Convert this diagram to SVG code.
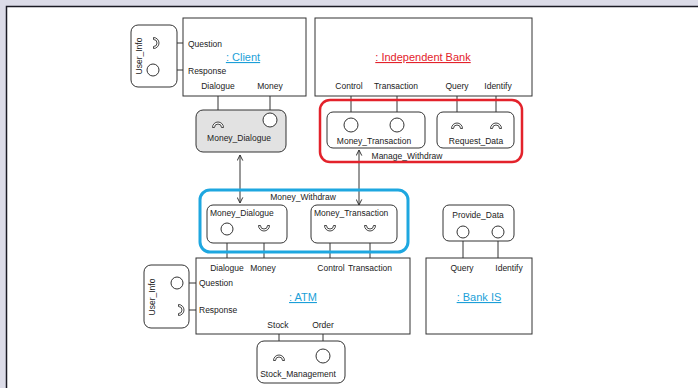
<svg xmlns="http://www.w3.org/2000/svg" width="698" height="388" viewBox="0 0 698 388">
  <style>
    .box { fill: #ffffff; stroke: #333333; stroke-width: 1; }
    .part { fill: #ffffff; stroke: #333333; stroke-width: 1; }
    .gray { fill: #e2e2e2; stroke: #333333; stroke-width: 1; }
    .wire { fill: none; stroke: #333333; stroke-width: 1; }
    .ball { fill: #ffffff; stroke: #333333; stroke-width: 1; }
    .sock { fill: #ffffff; stroke: #333333; stroke-width: 0.9; }
    .t { font-family: "Liberation Sans", Arial, sans-serif; font-size: 8.5px; fill: #222222; }
    .mid { text-anchor: middle; }
    .title { font-family: "Liberation Sans", Arial, sans-serif; font-size: 11px; text-anchor: middle; text-decoration: underline; }
    .blue { fill: #1c9fd8; }
    .red { fill: #e3222b; }
  </style>
  <defs>
    <!-- required-interface socket, convex side pointing up (towards its wire) -->
    <path id="sockUp" class="sock" d="M-5.5,2.5 A5.5,5.5 0 0 1 5.5,2.5 L3.5,2.5 A3.5,3.5 0 0 0 -3.5,2.5 Z"/>
    <marker id="arr" viewBox="0 0 10 10" refX="9" refY="5" markerWidth="7" markerHeight="7" orient="auto-start-reverse" markerUnits="userSpaceOnUse">
      <path d="M1,1 L9,5 L1,9" fill="none" stroke="#333333" stroke-width="1.4"/>
    </marker>
  </defs>

  <!-- page -->
  <rect x="0" y="0" width="698" height="388" fill="#dcdce8"/>
  <rect x="6" y="6" width="692" height="382" fill="#ffffff"/>
  <path d="M6.5,388 V6.5 H698" fill="none" stroke="#1b1b24" stroke-width="1.5"/>

  <!-- connectors -->
  <g id="connectors">
    <!-- client ports -->
    <path class="wire" d="M160,43 H183 M159,70 H183"/>
    <path class="wire" d="M218,96 V122 M270,96 V113"/>
    <!-- independent bank ports -->
    <path class="wire" d="M351,96 V118 M397,96 V118 M457,96 V123 M496,96 V123"/>
    <!-- delegation arrows -->
    <line class="wire" x1="240" y1="155" x2="240" y2="203" marker-start="url(#arr)" marker-end="url(#arr)"/>
    <line class="wire" x1="359" y1="150" x2="359" y2="205" marker-start="url(#arr)" marker-end="url(#arr)"/>
    <!-- money withdraw to ATM -->
    <path class="wire" d="M227,235 V258 M264,231 V258 M330,231 V258 M370,231 V258"/>
    <!-- provide data to bank IS -->
    <path class="wire" d="M463,238 V258 M498,238 V258"/>
    <!-- ATM user info -->
    <path class="wire" d="M183,283 H196 M185,310 H196"/>
    <!-- ATM stock management -->
    <path class="wire" d="M279,334 V354 M323,334 V349"/>
  </g>

  <!-- : Client -->
  <g id="client">
    <rect class="box" x="183" y="18" width="123" height="78"/>
    <text class="title blue" x="243" y="61">: Client</text>
    <text class="t" x="188" y="47">Question</text>
    <text class="t" x="188" y="74">Response</text>
    <text class="t mid" x="218" y="89">Dialogue</text>
    <text class="t mid" x="270" y="89">Money</text>
  </g>

  <!-- User_Info (client side) -->
  <g id="client-user-info">
    <rect class="part" x="131" y="25" width="46" height="62" rx="7"/>
    <text class="t mid" transform="translate(142,56) rotate(-90)">User_Info</text>
    <use href="#sockUp" transform="translate(156,43) rotate(90)"/>
    <circle class="ball" cx="153" cy="70" r="6"/>
  </g>

  <!-- : Independent Bank -->
  <g id="independent-bank">
    <rect class="box" x="315" y="18" width="217" height="78"/>
    <text class="title red" x="423" y="61">: Independent Bank</text>
    <text class="t mid" x="349" y="89">Control</text>
    <text class="t mid" x="396" y="89">Transaction</text>
    <text class="t mid" x="457" y="89">Query</text>
    <text class="t mid" x="498" y="89">Identify</text>
  </g>

  <!-- Money_Dialogue (client side, grey) -->
  <g id="client-money-dialogue">
    <rect class="gray" x="196" y="110" width="90" height="42" rx="7"/>
    <use href="#sockUp" transform="translate(218,125)"/>
    <circle class="ball" cx="270" cy="120" r="7"/>
    <text class="t mid" x="239" y="141">Money_Dialogue</text>
  </g>

  <!-- Manage_Withdraw -->
  <g id="manage-withdraw">
    <rect x="320" y="100" width="202" height="62" rx="10" fill="none" stroke="#e3222b" stroke-width="2.5"/>
    <text class="t mid" x="407" y="159">Manage_Withdraw</text>
    <g id="bank-money-transaction">
      <rect class="part" x="327" y="112" width="98" height="36" rx="6"/>
      <circle class="ball" cx="351" cy="125" r="7"/>
      <circle class="ball" cx="397" cy="125" r="7"/>
      <text class="t mid" x="374" y="144">Money_Transaction</text>
    </g>
    <g id="request-data">
      <rect class="part" x="437" y="112" width="77" height="36" rx="6"/>
      <use href="#sockUp" transform="translate(457,126)"/>
      <use href="#sockUp" transform="translate(496,126)"/>
      <text class="t mid" x="476" y="144">Request_Data</text>
    </g>
  </g>

  <!-- Money_Withdraw -->
  <g id="money-withdraw">
    <rect x="200" y="190" width="208" height="62" rx="10" fill="none" stroke="#1ea7e0" stroke-width="3"/>
    <text class="t mid" x="303" y="200">Money_Withdraw</text>
    <g id="atm-money-dialogue">
      <rect class="part" x="207" y="205" width="80" height="38" rx="6"/>
      <text class="t" x="210" y="216">Money_Dialogue</text>
      <circle class="ball" cx="227" cy="229" r="6"/>
      <use href="#sockUp" transform="translate(264,228) rotate(180)"/>
    </g>
    <g id="atm-money-transaction">
      <rect class="part" x="311" y="205" width="86" height="38" rx="6"/>
      <text class="t" x="314" y="216">Money_Transaction</text>
      <use href="#sockUp" transform="translate(330,228) rotate(180)"/>
      <use href="#sockUp" transform="translate(370,228) rotate(180)"/>
    </g>
  </g>

  <!-- Provide_Data -->
  <g id="provide-data">
    <rect class="part" x="443" y="205" width="71" height="36" rx="6"/>
    <text class="t mid" x="478" y="218">Provide_Data</text>
    <circle class="ball" cx="463" cy="232" r="6"/>
    <circle class="ball" cx="498" cy="232" r="6"/>
  </g>

  <!-- : ATM -->
  <g id="atm">
    <rect class="box" x="196" y="258" width="214" height="76"/>
    <text class="title blue" x="303" y="301">: ATM</text>
    <text class="t mid" x="227" y="271">Dialogue</text>
    <text class="t mid" x="263" y="271">Money</text>
    <text class="t mid" x="331" y="271">Control</text>
    <text class="t mid" x="370" y="271">Transaction</text>
    <text class="t" x="199" y="286">Question</text>
    <text class="t" x="199" y="313">Response</text>
    <text class="t mid" x="278" y="328">Stock</text>
    <text class="t mid" x="323" y="328">Order</text>
  </g>

  <!-- User_Info (ATM side) -->
  <g id="atm-user-info">
    <rect class="part" x="144" y="265" width="45" height="63" rx="7"/>
    <text class="t mid" transform="translate(155,297) rotate(-90)">User_Info</text>
    <circle class="ball" cx="177" cy="283" r="6"/>
    <use href="#sockUp" transform="translate(181,310) rotate(90)"/>
  </g>

  <!-- : Bank IS -->
  <g id="bank-is">
    <rect class="box" x="426" y="258" width="106" height="76"/>
    <text class="title blue" x="479" y="301">: Bank IS</text>
    <text class="t mid" x="462" y="271">Query</text>
    <text class="t mid" x="509" y="271">Identify</text>
  </g>

  <!-- Stock_Management -->
  <g id="stock-management">
    <rect class="part" x="257" y="341" width="88" height="42" rx="7"/>
    <use href="#sockUp" transform="translate(279,358)"/>
    <circle class="ball" cx="323" cy="356" r="7"/>
    <text class="t mid" x="298" y="377">Stock_Management</text>
  </g>
</svg>
